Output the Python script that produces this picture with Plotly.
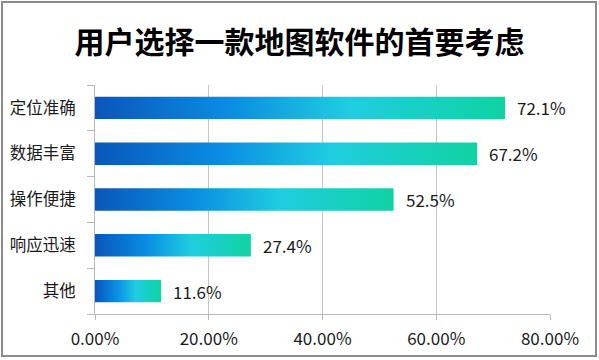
import plotly.graph_objects as go

categories = ["定位准确", "数据丰富", "操作便捷", "响应迅速", "其他"]
values = [72.1, 67.2, 52.5, 27.4, 11.6]
x_ticks = [0, 20, 40, 60, 80]
x_tick_labels = ["0.00%", "20.00%", "40.00%", "60.00%", "80.00%"]
title_text = "用户选择一款地图软件的首要考虑"

W, H = 599, 360
L, R, T, B = 95, 49, 85, 46
pw, ph = W - L - R, H - T - B

half = 0.245
grad = [[0, "#0a56ba"], [0.33, "#0a8de3"], [0.62, "#20cde0"], [1, "#0fd3a2"]]
FONT = "Noto Sans CJK SC"

fig = go.Figure()
for i, (c, v) in enumerate(zip(categories, values)):
    fig.add_trace(go.Scatter(
        x=[0, v, v, 0, 0],
        y=[i - half, i - half, i + half, i + half, i - half],
        mode="lines", line=dict(width=0), fill="toself",
        fillgradient=dict(type="horizontal", colorscale=grad),
        name=c, showlegend=False, hoverinfo="skip",
    ))
    fig.add_annotation(x=v, y=i, text=f"{v}%", showarrow=False,
                       xanchor="left", yanchor="middle", xshift=10,
                       font=dict(size=17, color="#1a1a1a", family=FONT))

fig.update_layout(
    width=W, height=H,
    margin=dict(l=L, r=R, t=T, b=B, autoexpand=False),
    paper_bgcolor="white", plot_bgcolor="white",
    title=dict(text=f"<b>{title_text}</b>", x=0.5, xanchor="center",
               y=1 - 42 / H, yanchor="middle",
               font=dict(size=30, color="#000000", family=FONT)),
    xaxis=dict(range=[0, 80], tickvals=x_ticks, ticktext=x_tick_labels,
               showgrid=True, gridcolor="#c4c4c4", gridwidth=1,
               showline=True, linecolor="#b8b8b8", linewidth=1,
               ticks="outside", ticklen=5, tickcolor="#b8b8b8",
               zeroline=False, fixedrange=True, ticklabelstandoff=5,
               automargin=False,
               tickfont=dict(size=17, color="#1a1a1a", family=FONT)),
    yaxis=dict(range=[4.5, -0.5], tickvals=list(range(len(categories))),
               ticktext=categories, ticks="", showgrid=False,
               showline=True, linecolor="#b8b8b8", linewidth=1,
               zeroline=False, ticklabelstandoff=15, automargin=False,
               minor=dict(tickvals=[k - 0.5 for k in range(len(categories) + 1)],
                          ticks="outside", ticklen=7, tickcolor="#b8b8b8"),
               tickfont=dict(size=16.5, color="#1a1a1a", family=FONT)),
)

# outer frame
fig.add_shape(type="rect", xref="paper", yref="paper",
              x0=(2 - L) / pw, x1=(596 - L) / pw,
              y0=(T + ph - 356) / ph, y1=(T + ph - 2) / ph,
              line=dict(color="#8c8c8c", width=2), fillcolor="rgba(0,0,0,0)",
              layer="below")

fig.write_html("out.html", config={"displayModeBar": False},
               post_script="document.body.style.margin='0';document.body.style.overflow='hidden';")
